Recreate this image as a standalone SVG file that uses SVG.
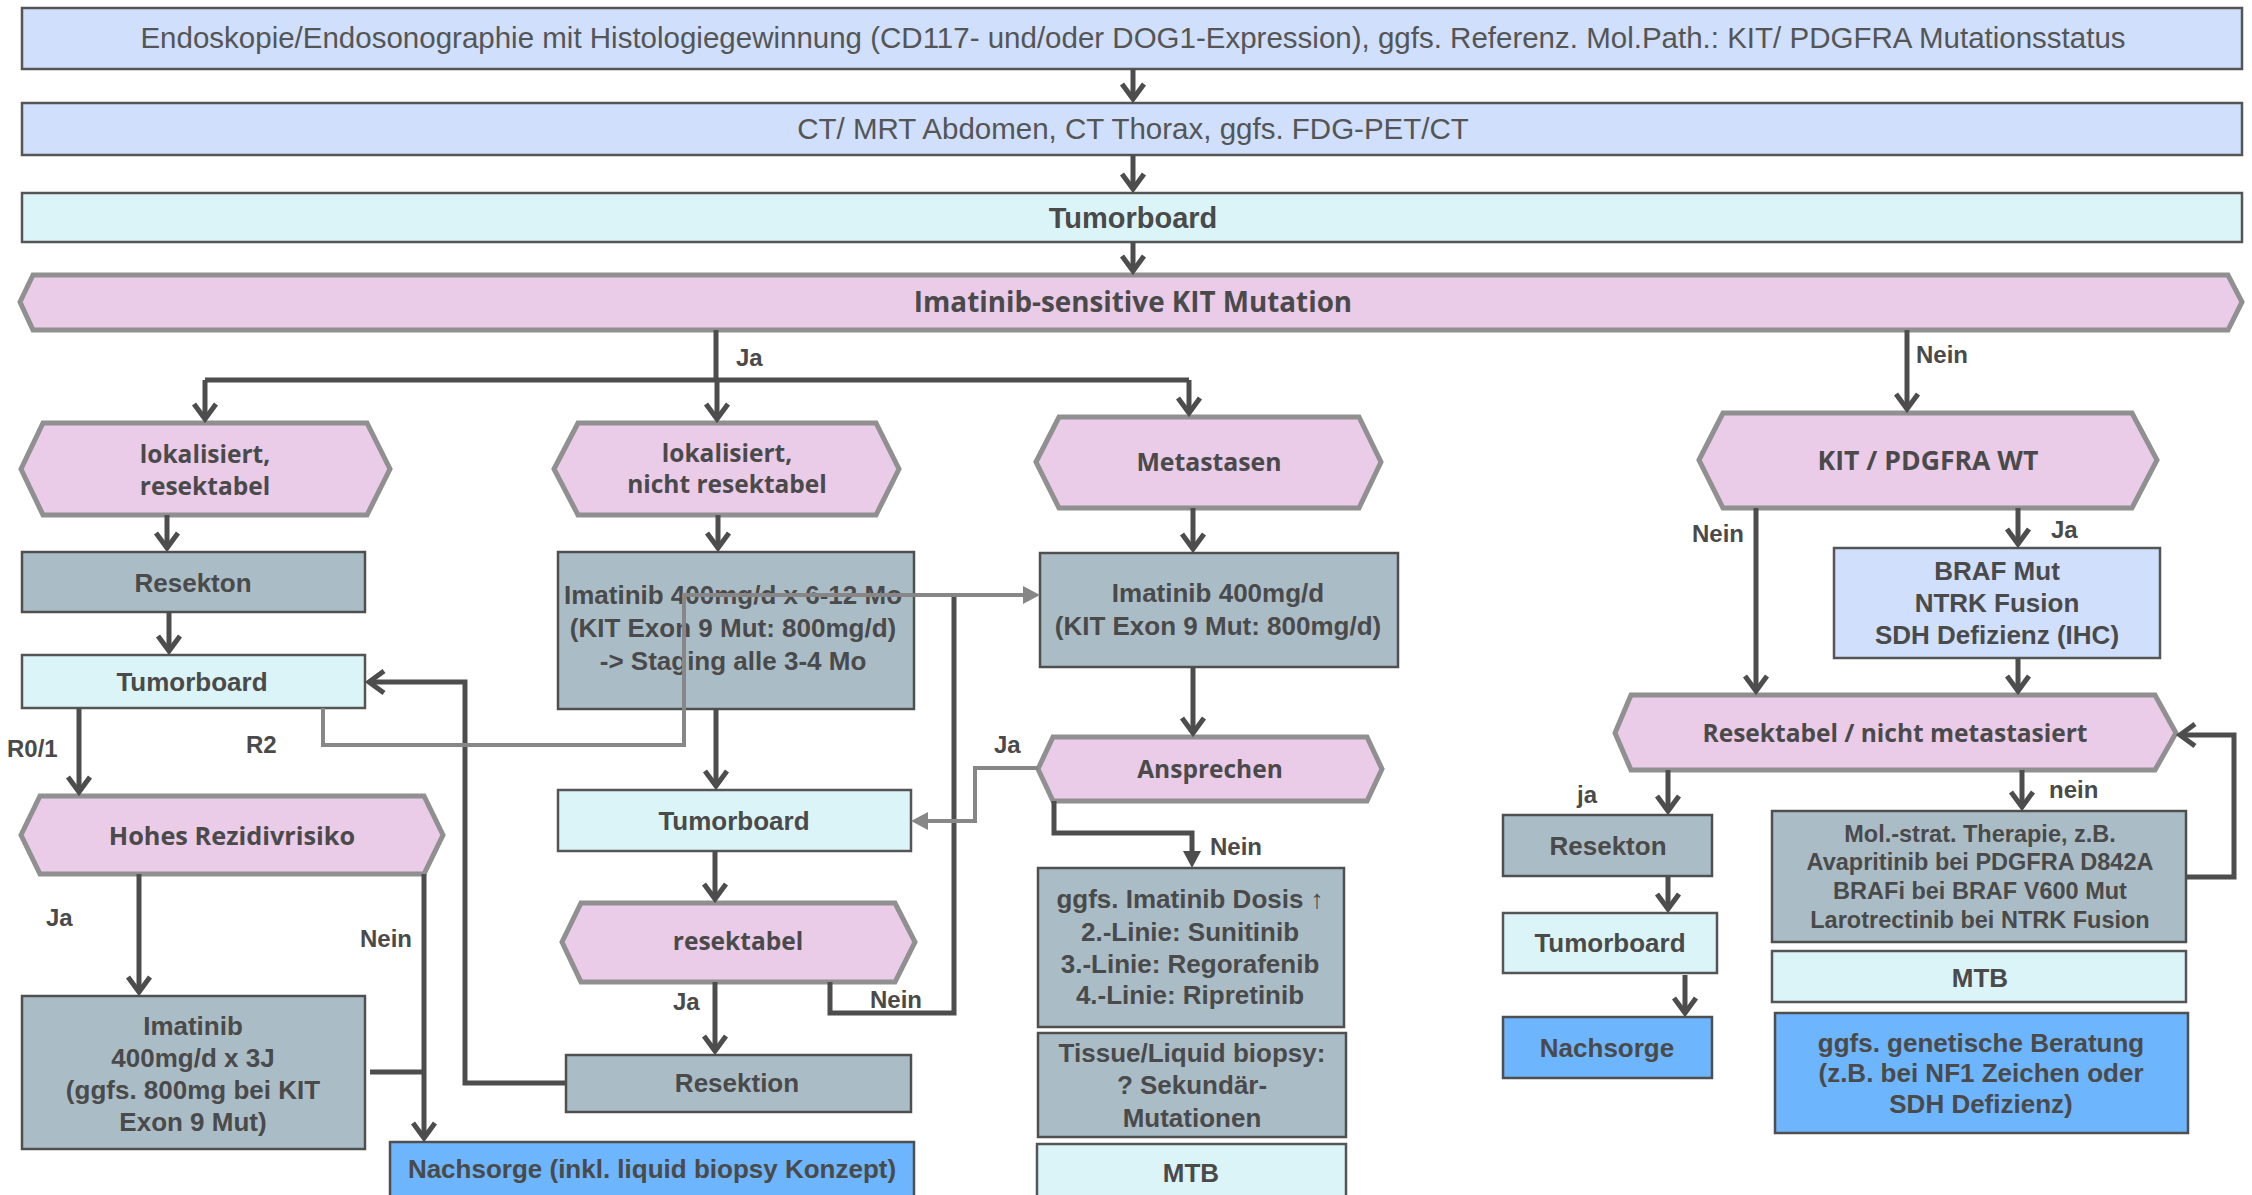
<svg xmlns="http://www.w3.org/2000/svg" width="2252" height="1195" viewBox="0 0 2252 1195">
<style>
.lb{fill:#cfdffc;stroke:#555;stroke-width:2.5}
.cy{fill:#dbf4f8;stroke:#555;stroke-width:2.5}
.gr{fill:#aabdc7;stroke:#4f4f4f;stroke-width:2.5}
.bl{fill:#6db5fd;stroke:#4f4f4f;stroke-width:2.5}
.hx{fill:#eacbe8;stroke:#909090;stroke-width:5}
.t{font-family:"Liberation Sans",Arial,sans-serif;font-weight:bold;font-size:26px;fill:#4a4a4a;text-anchor:middle}
.tr{font-family:"Liberation Sans",Arial,sans-serif;font-weight:normal;font-size:29.5px;fill:#555;text-anchor:middle}
.h{font-family:"Open Sans","Liberation Sans",sans-serif;font-weight:bold;font-size:24.5px;fill:#4a4a4a;text-anchor:middle}
.l{font-family:"Liberation Sans",Arial,sans-serif;font-weight:bold;font-size:24px;fill:#4a4a4a}
.c{fill:none;stroke:#4d4d4d;stroke-width:5}
.g{fill:none;stroke:#878787;stroke-width:4}
</style>
<defs>
<marker id="chev" markerUnits="userSpaceOnUse" viewBox="-26 -16 32 32" markerWidth="32" markerHeight="32" refX="-6" refY="0" orient="auto" overflow="visible"><path d="M-19,-11 L-4,0 L-19,11" fill="none" stroke="#4d4d4d" stroke-width="5"/></marker>
<marker id="trig" markerUnits="userSpaceOnUse" viewBox="-20 -12 24 24" markerWidth="24" markerHeight="24" refX="-8" refY="0" orient="auto" overflow="visible"><path d="M-17,-9 L0,0 L-17,9 Z" fill="#878787"/></marker>
<marker id="trid" markerUnits="userSpaceOnUse" viewBox="-20 -12 24 24" markerWidth="24" markerHeight="24" refX="-8" refY="0" orient="auto" overflow="visible"><path d="M-17,-9 L0,0 L-17,9 Z" fill="#4d4d4d"/></marker>
</defs>
<rect width="2252" height="1195" fill="#fff"/>

<g id="n-endo"><rect class="lb" x="22" y="8" width="2220" height="61"/><text class="tr" x="1133" y="48">Endoskopie/Endosonographie mit Histologiegewinnung (CD117- und/oder DOG1-Expression), ggfs. Referenz. Mol.Path.: KIT/ PDGFRA Mutationsstatus</text></g>
<g id="n-ct"><rect class="lb" x="22" y="103" width="2220" height="52"/><text class="tr" x="1133" y="139">CT/ MRT Abdomen, CT Thorax, ggfs. FDG-PET/CT</text></g>
<g id="n-tb0"><rect class="cy" x="22" y="193" width="2220" height="49"/><text class="t" x="1133" y="228" style="font-size:29px">Tumorboard</text></g>
<g id="n-kit"><polygon class="hx" points="20,302 33,275 2228,275 2242,302 2228,330 33,330"/><text class="h" x="1133" y="312" style="font-size:27.8px">Imatinib-sensitive KIT Mutation</text></g>

<g id="n-lokres"><polygon class="hx" points="21,469 43,423 367,423 390,469 367,515 43,515"/><text class="h" x="205" y="463">lokalisiert,</text><text class="h" x="205" y="495">resektabel</text></g>
<g id="n-lokn"><polygon class="hx" points="554,469 578,423 876,423 899,469 876,515 578,515"/><text class="h" x="727" y="462">lokalisiert,</text><text class="h" x="727" y="493">nicht resektabel</text></g>
<g id="n-meta"><polygon class="hx" points="1036,462 1059,417 1359,417 1381,462 1359,508 1059,508"/><text class="h" x="1209" y="471" style="font-size:24.8px">Metastasen</text></g>
<g id="n-wt"><polygon class="hx" points="1699,460 1723,413 2132,413 2157,460 2132,508 1723,508"/><text class="h" x="1928" y="470" style="font-size:26.6px">KIT / PDGFRA WT</text></g>

<g id="n-resekton1"><rect class="gr" x="22" y="552" width="343" height="60"/><text class="t" x="193" y="592">Resekton</text></g>
<g id="n-tb1"><rect class="cy" x="22" y="655" width="343" height="53"/><text class="t" x="192" y="691">Tumorboard</text></g>
<g id="n-ima1"><rect class="gr" x="558" y="552" width="356" height="157"/><text class="t" x="733" y="604">Imatinib 400mg/d x 6-12 Mo</text><text class="t" x="733" y="637">(KIT Exon 9 Mut: 800mg/d)</text><text class="t" x="733" y="670">-&gt; Staging alle 3-4 Mo</text></g>
<g id="n-ima2"><rect class="gr" x="1040" y="553" width="358" height="114"/><text class="t" x="1218" y="602">Imatinib 400mg/d</text><text class="t" x="1218" y="635">(KIT Exon 9 Mut: 800mg/d)</text></g>
<g id="n-braf"><rect class="lb" x="1834" y="548" width="326" height="110"/><text class="t" x="1997" y="580">BRAF Mut</text><text class="t" x="1997" y="612">NTRK Fusion</text><text class="t" x="1997" y="644">SDH Defizienz (IHC)</text></g>
<g id="n-ansp"><polygon class="hx" points="1038,769 1053,737 1367,737 1382,769 1367,801 1053,801"/><text class="h" x="1210" y="778">Ansprechen</text></g>
<g id="n-rnm"><polygon class="hx" points="1615,733 1631,695 2155,695 2176,733 2155,770 1631,770"/><text class="h" x="1895" y="742">Resektabel / nicht metastasiert</text></g>
<g id="n-hohes"><polygon class="hx" points="21,835 40,796 424,796 443,835 424,874 40,874"/><text class="h" x="232" y="845" style="font-size:25.3px">Hohes Rezidivrisiko</text></g>
<g id="n-tb2"><rect class="cy" x="558" y="790" width="353" height="61"/><text class="t" x="734" y="830">Tumorboard</text></g>
<g id="n-resektabel"><polygon class="hx" points="562,942 581,903 895,903 915,942 895,982 581,982"/><text class="h" x="738" y="950">resektabel</text></g>
<g id="n-ggfs"><rect class="gr" x="1038" y="868" width="306" height="159"/><text class="t" x="1190" y="908">ggfs. Imatinib Dosis ↑</text><text class="t" x="1190" y="941">2.-Linie: Sunitinib</text><text class="t" x="1190" y="973">3.-Linie: Regorafenib</text><text class="t" x="1190" y="1004">4.-Linie: Ripretinib</text></g>
<g id="n-tissue"><rect class="gr" x="1038" y="1033" width="308" height="104"/><text class="t" x="1192" y="1062">Tissue/Liquid biopsy:</text><text class="t" x="1192" y="1094">? Sekundär-</text><text class="t" x="1192" y="1127">Mutationen</text></g>
<g id="n-mtb1"><rect class="cy" x="1037" y="1144" width="309" height="60"/><text class="t" x="1191" y="1182">MTB</text></g>
<g id="n-ima3"><rect class="gr" x="22" y="996" width="343" height="153"/><text class="t" x="193" y="1035">Imatinib</text><text class="t" x="193" y="1067">400mg/d x 3J</text><text class="t" x="193" y="1099">(ggfs. 800mg bei KIT</text><text class="t" x="193" y="1131">Exon 9 Mut)</text></g>
<g id="n-resektion"><rect class="gr" x="566" y="1055" width="345" height="57"/><text class="t" x="737" y="1092">Resektion</text></g>
<g id="n-nachsorge1"><rect class="bl" x="390" y="1142" width="524" height="62"/><text class="t" x="652" y="1178">Nachsorge (inkl. liquid biopsy Konzept)</text></g>
<g id="n-resekton2"><rect class="gr" x="1503" y="815" width="209" height="61"/><text class="t" x="1608" y="855">Resekton</text></g>
<g id="n-tb3"><rect class="cy" x="1503" y="913" width="214" height="60"/><text class="t" x="1610" y="952">Tumorboard</text></g>
<g id="n-nachsorge2"><rect class="bl" x="1503" y="1017" width="209" height="61"/><text class="t" x="1607" y="1057">Nachsorge</text></g>
<g id="n-molstrat"><rect class="gr" x="1772" y="811" width="414" height="131"/><text class="t" x="1980" y="842" style="font-size:23.5px">Mol.-strat. Therapie, z.B.</text><text class="t" x="1980" y="870" style="font-size:23.5px">Avapritinib bei PDGFRA D842A</text><text class="t" x="1980" y="899" style="font-size:23.5px">BRAFi bei BRAF V600 Mut</text><text class="t" x="1980" y="928" style="font-size:23.5px">Larotrectinib bei NTRK Fusion</text></g>
<g id="n-mtb2"><rect class="cy" x="1772" y="951" width="414" height="51"/><text class="t" x="1980" y="987">MTB</text></g>
<g id="n-genetic"><rect class="bl" x="1775" y="1013" width="413" height="120"/><text class="t" x="1981" y="1052">ggfs. genetische Beratung</text><text class="t" x="1981" y="1082">(z.B. bei NF1 Zeichen oder</text><text class="t" x="1981" y="1113">SDH Defizienz)</text></g>

<g id="connectors">
<path class="c" d="M1133,69 V97" marker-end="url(#chev)"/>
<path class="c" d="M1133,155 V187" marker-end="url(#chev)"/>
<path class="c" d="M1133,242 V269" marker-end="url(#chev)"/>
<path class="c" d="M716,330 V380 M205,380 H1189"/>
<path class="c" d="M205,380 V417" marker-end="url(#chev)"/>
<path class="c" d="M717,380 V417" marker-end="url(#chev)"/>
<path class="c" d="M1189,380 V411" marker-end="url(#chev)"/>
<path class="c" d="M1907,330 V407" marker-end="url(#chev)"/>
<path class="c" d="M167,515 V546" marker-end="url(#chev)"/>
<path class="c" d="M169,612 V649" marker-end="url(#chev)"/>
<path class="c" d="M79,708 V790" marker-end="url(#chev)"/>
<path class="c" d="M566,1083 H465 V682 H371" marker-end="url(#chev)"/>
<path class="c" d="M830,982 V1013 H954 V597"/>
<path class="g" d="M323,708 V745 H684 V595 H1032" marker-end="url(#trig)"/>
<path class="c" d="M718,515 V546" marker-end="url(#chev)"/>
<path class="c" d="M716,709 V784" marker-end="url(#chev)"/>
<path class="c" d="M1193,508 V547" marker-end="url(#chev)"/>
<path class="c" d="M1193,667 V731" marker-end="url(#chev)"/>
<path class="g" d="M1038,768 H975 V821 H919" marker-end="url(#trig)"/>
<path class="c" d="M1054,801 V833 H1192 V860" marker-end="url(#trid)"/>
<path class="c" d="M715,851 V897" marker-end="url(#chev)"/>
<path class="c" d="M715,982 V1049" marker-end="url(#chev)"/>
<path class="c" d="M139,874 V990" marker-end="url(#chev)"/>
<path class="c" d="M424,874 V1136" marker-end="url(#chev)"/>
<path class="c" d="M370,1072 H424"/>
<path class="c" d="M1756,508 V689" marker-end="url(#chev)"/>
<path class="c" d="M2018,508 V542" marker-end="url(#chev)"/>
<path class="c" d="M2018,658 V689" marker-end="url(#chev)"/>
<path class="c" d="M1668,770 V809" marker-end="url(#chev)"/>
<path class="c" d="M2022,770 V805" marker-end="url(#chev)"/>
<path class="c" d="M2186,877 H2234 V735 H2182" marker-end="url(#chev)"/>
<path class="c" d="M1668,876 V907" marker-end="url(#chev)"/>
<path class="c" d="M1685,975 V1011" marker-end="url(#chev)"/>
<text class="l" x="736" y="366">Ja</text>
<text class="l" x="1916" y="363">Nein</text>
<text class="l" x="7" y="757">R0/1</text>
<text class="l" x="246" y="753">R2</text>
<text class="l" x="46" y="926">Ja</text>
<text class="l" x="360" y="947">Nein</text>
<text class="l" x="673" y="1010">Ja</text>
<text class="l" x="870" y="1008">Nein</text>
<text class="l" x="994" y="753">Ja</text>
<text class="l" x="1210" y="855">Nein</text>
<text class="l" x="1692" y="542">Nein</text>
<text class="l" x="2051" y="538">Ja</text>
<text class="l" x="1577" y="803">ja</text>
<text class="l" x="2049" y="798">nein</text>
</g>
</svg>
